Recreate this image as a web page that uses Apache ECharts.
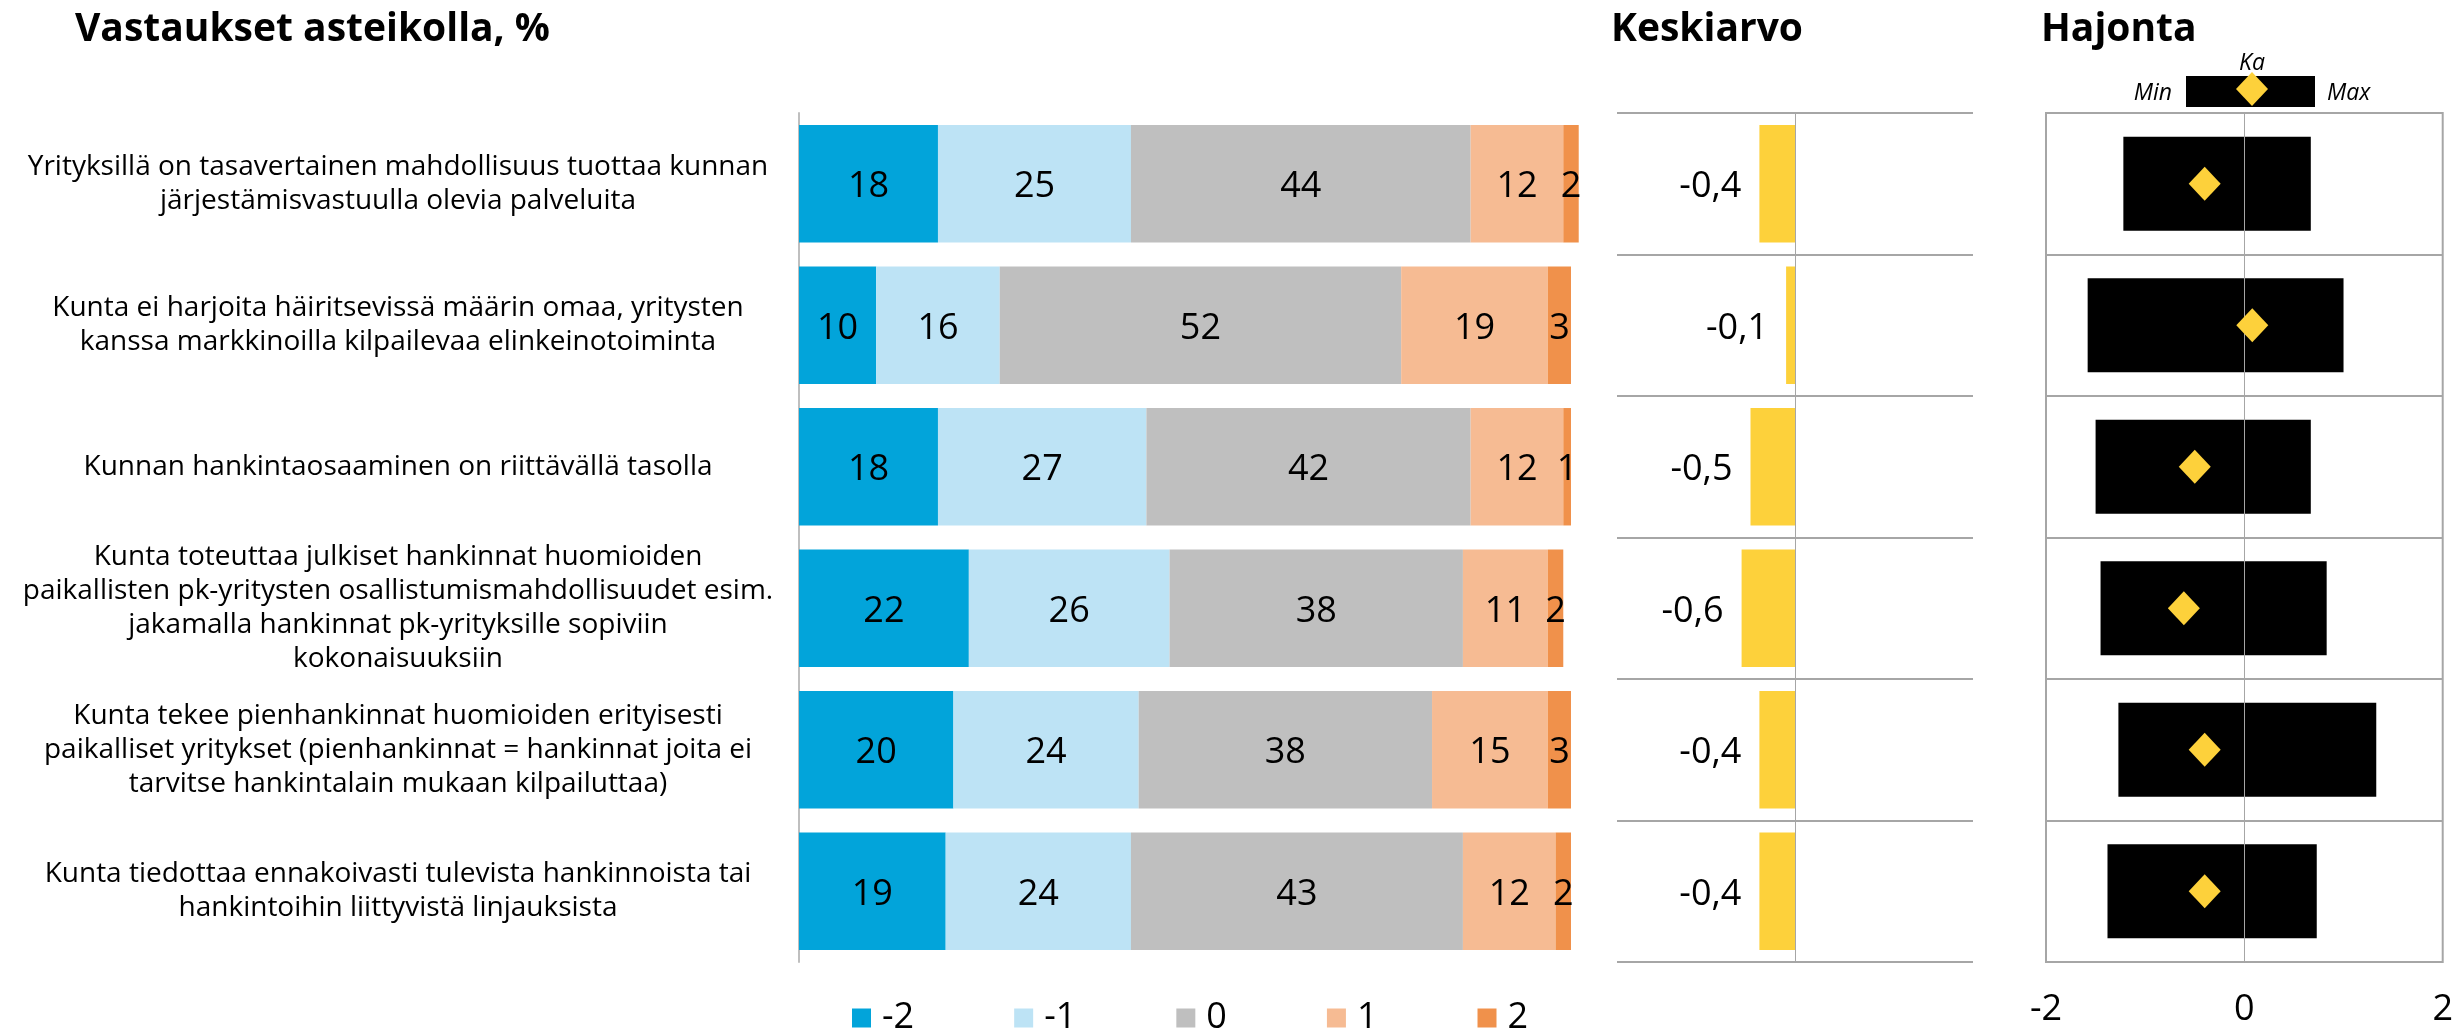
<!DOCTYPE html>
<html>
<head>
<meta charset="utf-8">
<script src="https://cdn.jsdelivr.net/npm/echarts@6/dist/echarts.min.js"></script>
<style>
  html, body { margin: 0; padding: 0; background: #ffffff; }
  #chart { width: 2456px; height: 1033px; }
</style>
</head>
<body>
<div id="chart"></div>
<script>
// Survey statements (rows, top to bottom)
const statements = [
  'Yrityksillä on tasavertainen mahdollisuus tuottaa kunnan\njärjestämisvastuulla olevia palveluita',
  'Kunta ei harjoita häiritsevissä määrin omaa, yritysten\nkanssa markkinoilla kilpailevaa elinkeinotoiminta',
  'Kunnan hankintaosaaminen on riittävällä tasolla',
  'Kunta toteuttaa julkiset hankinnat huomioiden\npaikallisten pk-yritysten osallistumismahdollisuudet esim.\njakamalla hankinnat pk-yrityksille sopiviin\nkokonaisuuksiin',
  'Kunta tekee pienhankinnat huomioiden erityisesti\npaikalliset yritykset (pienhankinnat = hankinnat joita ei\ntarvitse hankintalain mukaan kilpailuttaa)',
  'Kunta tiedottaa ennakoivasti tulevista hankinnoista tai\nhankintoihin liittyvistä linjauksista'
];

// Answer scale steps
const scaleSteps = ['-2', '-1', '0', '1', '2'];

// Share of answers per scale step, %
const shareMinus2 = [18, 10, 18, 22, 20, 19];
const shareMinus1 = [25, 16, 27, 26, 24, 24];
const shareZero   = [44, 52, 42, 38, 38, 43];
const sharePlus1  = [12, 19, 12, 11, 15, 12];
const sharePlus2  = [2, 3, 1, 2, 3, 2];

// Mean score per statement
const meanScores = [-0.4, -0.1, -0.5, -0.6, -0.4, -0.4];

// Spread: low end, high end and mean marker
const spreadLow  = [-1.22, -1.58, -1.50, -1.45, -1.27, -1.38];
const spreadHigh = [0.67, 1.00, 0.67, 0.83, 1.33, 0.73];
const spreadMean = [-0.40, 0.08, -0.50, -0.61, -0.40, -0.40];

// Spread axis tick labels
const spreadTicks = [-2, 0, 2];

const FONT = 'Open Sans';
const stepColors = ['#02A4DA', '#BDE3F5', '#BFBFBF', '#F6BB93', '#F0914B'];
const shares = [shareMinus2, shareMinus1, shareZero, sharePlus1, sharePlus2];
const YELLOW = '#FDD13B';
const GRID_GRAY = '#A6A6A6';

const TOP = 113, HEIGHT = 849;

const stackSeries = scaleSteps.map((step, i) => ({
  name: step,
  type: 'bar',
  stack: 'answers',
  xAxisIndex: 0,
  yAxisIndex: 0,
  barCategoryGap: '17%',
  clip: false,
  itemStyle: { color: stepColors[i] },
  label: {
    show: true,
    position: 'inside',
    offset: [0, 3],
    color: '#000',
    fontFamily: FONT,
    fontSize: 36
  },
  emphasis: { disabled: true },
  data: shares[i]
}));

const chart = echarts.init(document.getElementById('chart'), null, { renderer: 'canvas' });

chart.setOption({
  backgroundColor: '#ffffff',
  animation: false,
  title: [
    { text: 'Vastaukset asteikolla, %', left: 75, top: 10, padding: 0,
      textStyle: { fontFamily: FONT, fontWeight: 'bold', fontSize: 39, color: '#000' } },
    { text: 'Keskiarvo', left: 1611, top: 10, padding: 0,
      textStyle: { fontFamily: FONT, fontWeight: 'bold', fontSize: 39, color: '#000' } },
    { text: 'Hajonta', left: 2041, top: 10, padding: 0,
      textStyle: { fontFamily: FONT, fontWeight: 'bold', fontSize: 39, color: '#000' } }
  ],
  legend: {
    data: scaleSteps,
    left: 852,
    top: 1000,
    padding: 0,
    itemWidth: 19,
    itemHeight: 19,
    itemGap: 100,
    icon: 'rect',
    selectedMode: false,
    textStyle: { fontFamily: FONT, fontSize: 36, color: '#000', lineHeight: 36, padding: [0, 0, 0, 6] }
  },
  grid: [
    { left: 799, top: TOP, width: 772, height: HEIGHT },
    { left: 1617, top: TOP, width: 356, height: HEIGHT },
    { left: 2046, top: TOP, width: 400, height: HEIGHT, show: true,
      borderColor: GRID_GRAY, borderWidth: 2, backgroundColor: 'transparent' }
  ],
  xAxis: [
    { gridIndex: 0, type: 'value', min: 0, max: 100, show: false },
    { gridIndex: 1, type: 'value', min: -2, max: 2, show: false },
    { gridIndex: 2, type: 'value', min: spreadTicks[0], max: spreadTicks[spreadTicks.length - 1], interval: 2,
      axisLine: { show: false }, axisTick: { show: false }, splitLine: { show: false },
      axisLabel: { fontFamily: FONT, fontSize: 36, color: '#000', margin: 30,
        formatter: v => spreadTicks.includes(v) ? String(v) : '' } }
  ],
  yAxis: [
    { gridIndex: 0, type: 'category', inverse: true, data: statements,
      axisLine: { show: true, lineStyle: { color: '#BFBFBF', width: 2 } },
      axisTick: { show: false },
      axisLabel: { fontFamily: FONT, fontSize: 28, color: '#000', align: 'center',
        margin: 401, lineHeight: 34 } },
    { gridIndex: 1, type: 'category', inverse: true, data: statements, z: 5,
      axisLine: { show: true, onZero: true, lineStyle: { color: GRID_GRAY, width: 1 } },
      axisTick: { show: false }, axisLabel: { show: false },
      splitLine: { show: true, lineStyle: { color: GRID_GRAY, width: 2 } } },
    { gridIndex: 2, type: 'category', inverse: true, data: statements, z: 5,
      axisLine: { show: true, onZero: true, lineStyle: { color: GRID_GRAY, width: 1 } },
      axisTick: { show: false }, axisLabel: { show: false },
      splitLine: { show: true, lineStyle: { color: GRID_GRAY, width: 2 } } }
  ],
  series: [
    ...stackSeries,
    {
      name: 'Keskiarvo',
      type: 'bar',
      xAxisIndex: 1,
      yAxisIndex: 1,
      barCategoryGap: '17%',
      itemStyle: { color: YELLOW },
      label: {
        show: true,
        position: 'left',
        distance: 18,
        offset: [0, 3],
        color: '#000',
        fontFamily: FONT,
        fontSize: 36,
        formatter: p => p.value.toFixed(1).replace('.', ',')
      },
      emphasis: { disabled: true },
      data: meanScores
    },
    {
      name: 'Hajonta',
      type: 'custom',
      xAxisIndex: 2,
      yAxisIndex: 2,
      encode: { x: [0, 1], y: 2 },
      renderItem: (params, api) => {
        const lo = api.coord([api.value(0), api.value(2)]);
        const hi = api.coord([api.value(1), api.value(2)]);
        const h = api.size([0, 1])[1] * 0.665;
        return {
          type: 'rect',
          shape: { x: lo[0], y: lo[1] - h / 2, width: hi[0] - lo[0], height: h },
          style: { fill: '#000000' }
        };
      },
      data: spreadLow.map((lo, i) => [lo, spreadHigh[i], i])
    },
    {
      name: 'Ka',
      type: 'scatter',
      xAxisIndex: 2,
      yAxisIndex: 2,
      symbol: 'diamond',
      symbolSize: [32, 34],
      itemStyle: { color: YELLOW, opacity: 1 },
      z: 6,
      emphasis: { disabled: true },
      data: spreadMean.map((m, i) => [m, i])
    }
  ],
  graphic: [
    { type: 'rect', left: 2186, top: 76, shape: { width: 129, height: 31 }, style: { fill: '#000' } },
    { type: 'polygon', shape: { points: [[2252, 72], [2268, 89], [2252, 106], [2236, 89]] },
      style: { fill: YELLOW }, z: 10 },
    { type: 'text', x: 2252, y: 63, style: { text: 'Ka', textAlign: 'center', textVerticalAlign: 'middle',
      fontFamily: FONT, fontStyle: 'italic', fontSize: 23, fill: '#000' } },
    { type: 'text', x: 2172, y: 93, style: { text: 'Min', textAlign: 'right', textVerticalAlign: 'middle',
      fontFamily: FONT, fontStyle: 'italic', fontSize: 23, fill: '#000' } },
    { type: 'text', x: 2327, y: 93, style: { text: 'Max', textAlign: 'left', textVerticalAlign: 'middle',
      fontFamily: FONT, fontStyle: 'italic', fontSize: 23, fill: '#000' } }
  ]
});
</script>
</body>
</html>
